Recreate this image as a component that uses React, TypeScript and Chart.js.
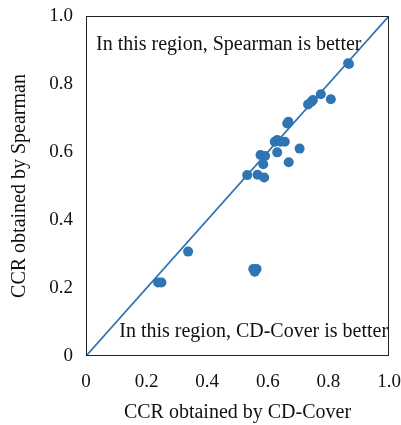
import React, { useEffect, useRef } from "react";
import { Chart, registerables } from "chart.js";

Chart.register(...registerables);

const cdCover = [0.865, 0.868, 0.775, 0.808, 0.733, 0.744, 0.749, 0.664, 0.668, 0.705, 0.623, 0.631, 0.642, 0.656, 0.631, 0.669, 0.576, 0.591, 0.585, 0.532, 0.566, 0.588, 0.337, 0.552, 0.563, 0.557, 0.238, 0.249];
const spearman = [0.861, 0.859, 0.770, 0.755, 0.740, 0.748, 0.753, 0.684, 0.689, 0.610, 0.630, 0.635, 0.630, 0.630, 0.599, 0.570, 0.591, 0.588, 0.564, 0.532, 0.533, 0.525, 0.307, 0.256, 0.256, 0.248, 0.216, 0.216];
const diagonal = [0, 1];
const tickValues = [0, 0.2, 0.4, 0.6, 0.8, 1.0];
const tickLabels = ["0", "0.2", "0.4", "0.6", "0.8", "1.0"];
const upperNote = "In this region, Spearman is better";
const lowerNote = "In this region, CD-Cover is better";
const xTitle = "CCR obtained by CD-Cover";
const yTitle = "CCR obtained by Spearman";

const COLOR = "#2f74b3";
const FONT = "'Liberation Serif', 'DejaVu Serif', serif";

const framePlugin = {
  id: "frameNotes",
  afterDatasetsDraw(chart: any) {
    const { ctx, chartArea, scales } = chart;
    ctx.save();
    ctx.strokeStyle = "#222";
    ctx.lineWidth = 1;
    ctx.strokeRect(chartArea.left + 0.5, chartArea.top + 0.5, chartArea.right - chartArea.left - 1, chartArea.bottom - chartArea.top - 1);
    ctx.fillStyle = "#111";
    ctx.font = `20px ${FONT}`;
    ctx.textBaseline = "middle";
    ctx.textAlign = "left";
    ctx.fillText(upperNote, scales.x.getPixelForValue(0.033), scales.y.getPixelForValue(0.915));
    ctx.textAlign = "right";
    ctx.fillText(lowerNote, scales.x.getPixelForValue(0.997), scales.y.getPixelForValue(0.07));
    ctx.restore();
  },
};

export default function App() {
  const ref = useRef<HTMLCanvasElement>(null);
  useEffect(() => {
    document.body.style.margin = "0";
    const chart = new Chart(ref.current!, {
      type: "scatter",
      data: {
        datasets: [
          {
            type: "line",
            data: diagonal.map((v) => ({ x: v, y: v })),
            borderColor: COLOR,
            borderWidth: 1.8,
            pointRadius: 0,
            fill: false,
          } as any,
          {
            data: cdCover.map((x, i) => ({ x, y: spearman[i] })),
            backgroundColor: COLOR,
            borderColor: COLOR,
            pointRadius: 5,
            borderWidth: 0,
          },
        ],
      },
      options: {
        animation: false,
        responsive: false,
        layout: { padding: { top: 16, right: 12, left: 6, bottom: 0 } },
        plugins: { legend: { display: false }, tooltip: { enabled: false } },
        scales: {
          x: {
            type: "linear",
            min: 0,
            max: 1,
            grid: { display: false, drawTicks: false },
            border: { display: false },
            afterBuildTicks: (s: any) => {
              s.ticks = tickValues.map((v) => ({ value: v }));
            },
            afterFit: (s: any) => {
              s.height = 69;
              s.paddingLeft = 0;
              s.paddingRight = 0;
            },
            ticks: {
              padding: 15,
              color: "#111",
              font: { family: FONT, size: 19 },
              callback: (v: any) => tickLabels[tickValues.indexOf(Number(v))] ?? "",
            },
            title: {
              display: true,
              text: xTitle,
              color: "#111",
              font: { family: FONT, size: 20 },
              padding: { top: 8, bottom: 0 },
            },
          },
          y: {
            type: "linear",
            min: 0,
            max: 1,
            grid: { display: false, drawTicks: false },
            border: { display: false },
            afterBuildTicks: (s: any) => {
              s.ticks = tickValues.map((v) => ({ value: v }));
            },
            afterFit: (s: any) => {
              s.width = 80;
              s.paddingTop = 0;
              s.paddingBottom = 0;
            },
            ticks: {
              padding: 13,
              color: "#111",
              font: { family: FONT, size: 19 },
              callback: (v: any) => tickLabels[tickValues.indexOf(Number(v))] ?? "",
            },
            title: {
              display: true,
              text: yTitle,
              color: "#111",
              font: { family: FONT, size: 20 },
              padding: { top: 2, bottom: 4 },
            },
          },
        },
      },
      plugins: [framePlugin],
    });
    return () => chart.destroy();
  }, []);
  return (
    <div style={{ width: 401, height: 425 }}>
      <canvas ref={ref} width={401} height={425} style={{ display: "block" }} />
    </div>
  );
}
